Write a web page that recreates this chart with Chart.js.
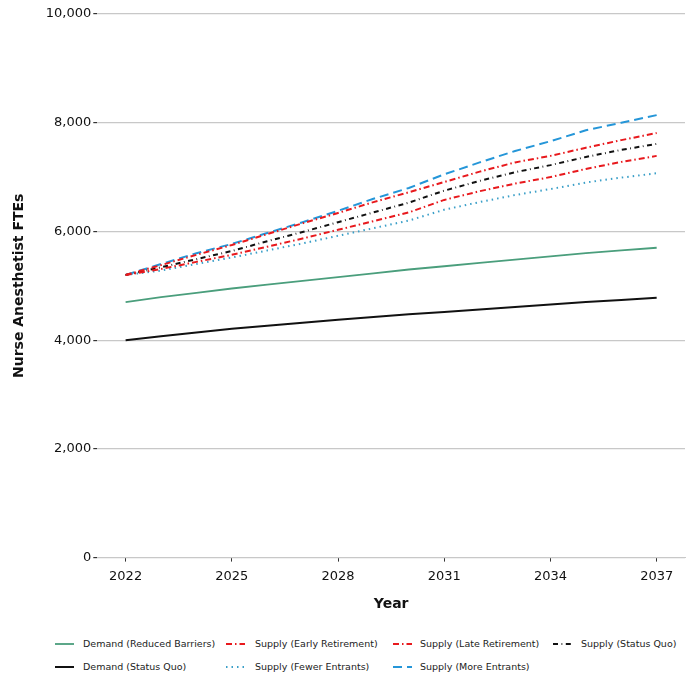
<!DOCTYPE html>
<html>
<head>
<meta charset="utf-8">
<script src="https://cdn.jsdelivr.net/npm/chart.js@4/dist/chart.umd.min.js"></script>
<style>
  html, body { margin: 0; padding: 0; background: #fff; }
  #wrap { position: relative; width: 699px; height: 699px; font-family: "DejaVu Sans", sans-serif; }
  #chartBox { position: absolute; left: 0; top: 0; width: 699px; height: 620px; }
  .lg { position: absolute; font-size: 9.5px; color: #222; white-space: nowrap; line-height: 12px; }
  .lg svg { position: absolute; }
</style>
</head>
<body>
<div id="wrap">
  <div id="chartBox"><canvas id="c"></canvas></div>
  <div id="legend"></div>
</div>
<script>
const years = [2022,2023,2024,2025,2026,2027,2028,2029,2030,2031,2032,2033,2034,2035,2036,2037];
const xTicks = [2022, 2025, 2028, 2031, 2034, 2037];
const yTicks = [0, 2000, 4000, 6000, 8000, 10000];

const demandReducedBarriers = [4700,4790,4870,4950,5020,5090,5160,5230,5300,5360,5420,5480,5540,5600,5650,5700];
const demandStatusQuo       = [4000,4070,4140,4210,4265,4320,4375,4425,4475,4520,4565,4610,4655,4700,4740,4780];
const supplyEarlyRetirement = [5200,5310,5440,5570,5720,5870,6030,6190,6350,6580,6740,6880,7000,7150,7280,7390];
const supplyLateRetirement  = [5200,5380,5570,5750,5950,6150,6340,6540,6720,6910,7100,7270,7390,7540,7680,7810];
const supplyStatusQuo       = [5200,5340,5490,5640,5820,5990,6170,6350,6530,6750,6930,7090,7220,7370,7500,7610];
const supplyFewerEntrants   = [5200,5280,5400,5520,5650,5780,5920,6060,6200,6400,6540,6670,6780,6900,6990,7070];
const supplyMoreEntrants    = [5200,5400,5600,5770,5970,6170,6380,6600,6800,7050,7270,7480,7660,7860,8000,8140];

const seriesNames = [
  "Demand (Reduced Barriers)", "Supply (Early Retirement)", "Supply (Late Retirement)", "Supply (Status Quo)",
  "Demand (Status Quo)", "Supply (Fewer Entrants)", "Supply (More Entrants)"
];
const seriesValues = [
  demandReducedBarriers, supplyEarlyRetirement, supplyLateRetirement, supplyStatusQuo,
  demandStatusQuo, supplyFewerEntrants, supplyMoreEntrants
];
const styles = [
  { color: "#4a9e7c", width: 1.8, dash: [] },
  { color: "#e8191d", width: 2, dash: [6, 3, 1.5, 3] },
  { color: "#e8191d", width: 2, dash: [6, 3, 1.5, 3] },
  { color: "#111111", width: 2, dash: [5, 3.5, 0.8, 3.5] },
  { color: "#111111", width: 2, dash: [] },
  { color: "#3a9fc8", width: 2, dash: [1.5, 4] },
  { color: "#2596d8", width: 2, dash: [9, 5] }
];

const datasets = seriesNames.map((name, i) => ({
  label: name,
  data: years.map((y, k) => ({ x: y, y: seriesValues[i][k] })),
  borderColor: styles[i].color,
  backgroundColor: styles[i].color,
  borderWidth: styles[i].width,
  borderDash: styles[i].dash,
  pointRadius: 0,
  fill: false,
  tension: 0
}));

new Chart(document.getElementById("c"), {
  type: "line",
  data: { datasets },
  options: {
    responsive: true,
    maintainAspectRatio: false,
    animation: false,
    layout: { padding: { left: 11, right: 14, top: 14, bottom: 7 } },
    plugins: { legend: { display: false }, tooltip: { enabled: false } },
    scales: {
      x: {
        type: "linear",
        min: 2021.2,
        max: 2037.8,
        afterBuildTicks: (s) => { s.ticks = xTicks.map(v => ({ value: v })); },
        ticks: {
          color: "#111",
          font: { family: "DejaVu Sans", size: 13 },
          callback: (v) => String(v),
          padding: 7,
          maxRotation: 0
        },
        grid: { display: true, drawOnChartArea: false, drawTicks: true, tickLength: 4, color: "#333" },
        border: { display: true, color: "#c8c8c8", width: 1 },
        title: {
          display: true, text: "Year", color: "#111",
          font: { family: "DejaVu Sans", size: 14, weight: "bold" },
          padding: { top: 5, bottom: 0 }
        }
      },
      y: {
        min: 0,
        max: 10000,
        afterBuildTicks: (s) => { s.ticks = yTicks.map(v => ({ value: v })); },
        ticks: {
          color: "#111",
          font: { family: "DejaVu Sans", size: 13 },
          callback: (v) => v.toLocaleString("en-US"),
          padding: 2
        },
        grid: { color: "#c8c8c8", lineWidth: 1.2, tickLength: 4, tickColor: "#333" },
        border: { display: false },
        title: {
          display: true, text: "Nurse Anesthetist FTEs", color: "#111",
          font: { family: "DejaVu Sans", size: 14, weight: "bold" },
          padding: { top: 0, bottom: 16 }
        }
      }
    }
  }
});

// HTML legend (matplotlib-style columns)
const colSample = [55, 226, 393, 553];
const colText = [83, 255, 420, 581];
const rowY = [644, 667];
const legend = document.getElementById("legend");
seriesNames.forEach((name, i) => {
  const r = i < 4 ? 0 : 1;
  const c = i < 4 ? i : i - 4;
  const st = styles[i];
  const svg = document.createElementNS("http://www.w3.org/2000/svg", "svg");
  svg.setAttribute("width", "20");
  svg.setAttribute("height", "6");
  svg.style.position = "absolute";
  svg.style.left = colSample[c] + "px";
  svg.style.top = (rowY[r] - 3) + "px";
  const ln = document.createElementNS("http://www.w3.org/2000/svg", "line");
  ln.setAttribute("x1", "0"); ln.setAttribute("y1", "3");
  ln.setAttribute("x2", "19"); ln.setAttribute("y2", "3");
  ln.setAttribute("stroke", st.color);
  ln.setAttribute("stroke-width", st.width);
  if (st.dash.length) ln.setAttribute("stroke-dasharray", st.dash.join(","));
  svg.appendChild(ln);
  legend.appendChild(svg);
  const t = document.createElement("div");
  t.className = "lg";
  t.style.left = colText[c] + "px";
  t.style.top = (rowY[r] - 6) + "px";
  t.textContent = name;
  legend.appendChild(t);
});
</script>
</body>
</html>
